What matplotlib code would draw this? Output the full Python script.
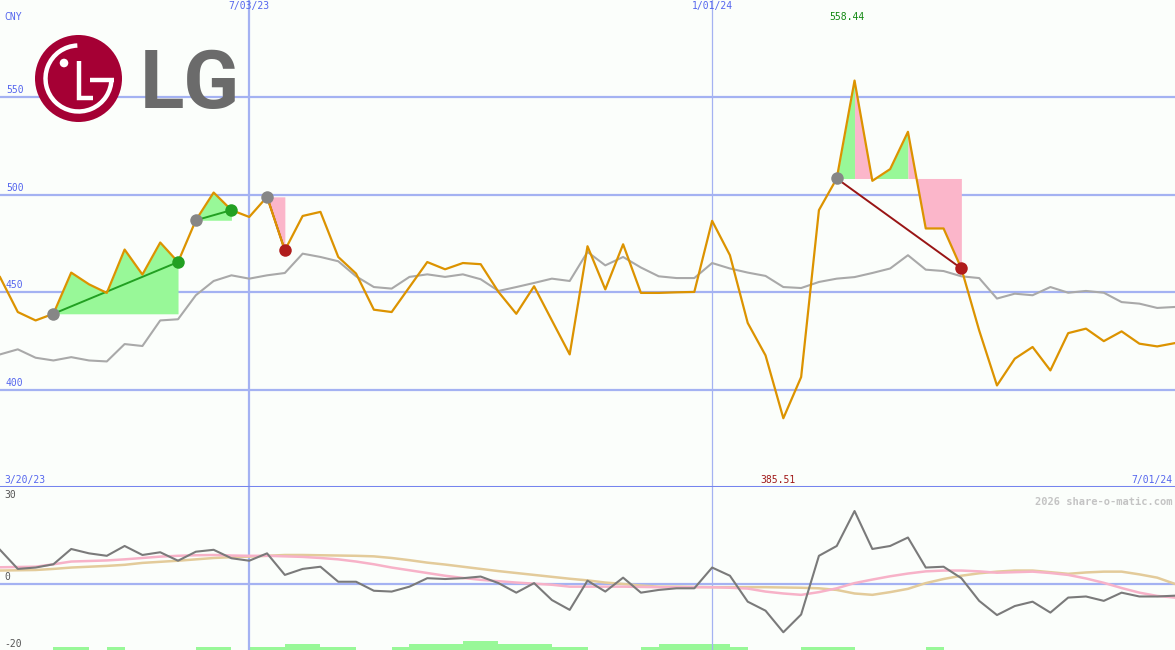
import numpy as np
import matplotlib.pyplot as plt
from matplotlib.patches import Circle, Arc

# weekly closes (CNY), index 0 = left edge of the chart, one point per week
price = [457.8, 439.9, 435.6, 439.0, 460.1, 454.1, 449.7, 471.9, 459.1, 475.5,
         465.5, 486.9, 501.1, 492.1, 488.6, 498.9, 471.5, 489.1, 491.2, 468.1,
         459.6, 441.1, 439.9, 452.7, 465.5, 461.8, 465.0, 464.4, 450.2, 439.0,
         453.1, 435.6, 418.2, 473.6, 451.5, 474.6, 449.7, 449.7, 450.0, 450.2,
         486.6, 469.0, 434.3, 417.7, 385.51, 406.6, 492.1, 508.3, 558.44, 507.1,
         513.1, 532.2, 482.7, 482.7, 462.2, 430.5, 402.3, 416.0, 422.0, 410.0,
         429.1, 431.4, 425.0, 430.0, 423.7, 422.3, 424.0]

# moving average (grey)
avg = [418.2, 420.8, 416.5, 415.1, 416.8, 415.1, 414.6, 423.5, 422.5, 435.6,
       436.2, 448.5, 455.8, 458.7, 457.0, 458.7, 459.9, 469.8, 468.1, 465.9,
       458.2, 452.7, 451.9, 457.9, 459.2, 457.9, 459.2, 456.7, 450.7, 452.7,
       454.8, 457.0, 455.8, 470.7, 463.8, 468.1, 462.7, 458.2, 457.3, 457.3,
       465.0, 462.2, 460.1, 458.4, 452.7, 452.2, 455.3, 457.0, 457.8, 459.9,
       462.2, 469.0, 461.6, 460.9, 458.2, 457.3, 446.8, 449.3, 448.5, 452.7,
       449.8, 450.7, 449.8, 445.0, 444.2, 442.0, 442.5]

# lower panel: oscillator and its two smoothed lines
osc = [12.5, 5.5, 6.0, 7.2, 12.8, 11.2, 10.3, 13.9, 10.6, 11.6,
       8.5, 11.8, 12.5, 9.4, 8.5, 11.2, 3.3, 5.5, 6.3, 0.8,
       0.8, -2.5, -2.8, -1.0, 2.1, 1.8, 2.1, 2.7, 0.3, -3.2,
       0.3, -5.9, -9.5, 1.2, -2.8, 2.3, -3.2, -2.2, -1.6, -1.6,
       6.0, 3.0, -6.5, -9.8, -17.7, -11.2, 10.3, 13.9, 26.7, 12.8,
       13.9, 17.0, 6.0, 6.3, 2.1, -6.2, -11.4, -8.1, -6.5, -10.5,
       -5.0, -4.6, -6.2, -3.2, -4.6, -4.6, -4.3]
osc_pink = [6.1, 6.2, 6.3, 7.2, 8.2, 8.4, 8.6, 9.0, 9.5, 10.0,
            10.3, 10.5, 10.6, 10.4, 10.3, 10.3, 10.1, 9.9, 9.5, 9.0,
            8.2, 7.2, 6.0, 5.0, 4.0, 3.0, 2.2, 1.5, 1.0, 0.5,
            0.1, -0.3, -1.0, -1.0, -1.0, -1.0, -1.1, -1.2, -1.2, -1.2,
            -1.2, -1.4, -1.7, -2.8, -3.5, -4.0, -3.0, -1.6, 0.3, 1.6,
            2.8, 3.8, 4.6, 4.9, 4.9, 4.6, 4.1, 4.3, 4.5, 4.0,
            3.3, 2.0, 0.4, -1.5, -3.2, -4.4, -5.0]
osc_tan = [4.9, 5.0, 5.1, 5.5, 6.0, 6.3, 6.6, 7.0, 7.7, 8.1,
           8.5, 9.0, 9.5, 9.8, 10.0, 10.3, 10.6, 10.6, 10.5, 10.4,
           10.3, 10.1, 9.5, 8.7, 7.8, 7.1, 6.3, 5.5, 4.7, 4.0,
           3.3, 2.6, 1.9, 1.3, 0.5, 0.0, -0.6, -1.0, -1.0, -1.1,
           -1.2, -1.2, -1.2, -1.2, -1.3, -1.4, -1.6, -2.2, -3.5, -4.0,
           -3.0, -1.8, 0.3, 1.8, 3.0, 3.9, 4.5, 4.9, 4.9, 4.3,
           3.7, 4.2, 4.5, 4.5, 3.5, 2.3, 0.0]

# green bars along the bottom, one level per week interval
bar_level = [0, 0, 0, 1, 1, 0, 1, 0, 0, 0, 0, 1, 1, 0, 1, 1, 2, 2, 1, 1,
             0, 0, 1, 2, 2, 2, 3, 3, 2, 2, 2, 1, 1, 0, 0, 0, 1, 2, 2, 2,
             2, 1, 0, 0, 0, 1, 1, 1, 0, 0, 0, 0, 1, 0, 0, 0, 0, 0, 0, 0,
             0, 0, 0, 0, 0, 0]

# trades: entry week, exit week, colour of each shaded segment
trade_entry = [3, 11, 15, 47]
trade_exit = [10, 13, 16, 54]
trade_segs = ['ggggggg', 'gg', 'r', 'grggrrr']

price_ticks = [400, 450, 500, 550]
date_marks = [14, 40]
date_labels = ['7/03/23', '1/01/24']

grid_c = '#a4b2f2'
blue_txt = '#5566ee'
mono = 'DejaVu Sans Mono'
bg = '#fbfefb'
W, H = 1175, 650

fig = plt.figure(figsize=(W / 100, H / 100), dpi=100, facecolor=bg)
ax = fig.add_axes([0, 163 / H, 1, 487 / H])
ax2 = fig.add_axes([0, 0, 1, 163 / H])
weeks = np.arange(len(price))

for a in (ax, ax2):
    a.set_facecolor(bg)
    a.set_xlim(0, len(price) - 1)
    a.set_xticks([])
    a.set_yticks([])
    for s in a.spines.values():
        s.set_visible(False)
    a.axvline(date_marks[0], color=grid_c, lw=1.6, zorder=1)
    a.axvline(date_marks[1], color=grid_c, lw=0.9, zorder=1)

# ---- top panel
ax.set_ylim(350.3, 599.7)
ytr = ax.get_yaxis_transform()
for t in price_ticks:
    ax.axhline(t, color=grid_c, lw=1.6, zorder=1)
    ax.text(0.005, t + 1, str(t), transform=ytr, fontsize=7, family=mono, color=blue_txt, va='bottom')
ax.axhline(350.3, color='#7584ee', lw=2.2, zorder=5)

# shaded trades, one patch per run of the same colour
for e, x, segs in zip(trade_entry, trade_exit, trade_segs):
    base = price[e]
    k = 0
    while k < len(segs):
        j = k
        while j + 1 < len(segs) and segs[j + 1] == segs[k]:
            j += 1
        xs = np.arange(e + k, e + j + 2)
        ys = [price[i] for i in xs]
        ax.fill_between(xs, base, ys, color='#98f898' if segs[k] == 'g' else '#fbb6ca',
                        lw=0, zorder=2)
        k = j + 1
    win = price[x] > base
    ax.plot([e, x], [base, price[x]], color='#22a022' if win else '#991515', lw=1.4, zorder=3)

ax.plot(weeks, avg, color='#a9a9a9', lw=1.5, zorder=3)
ax.plot(weeks, price, color='#dc9300', lw=1.6, zorder=4)

for e, x in zip(trade_entry, trade_exit):
    ax.plot(e, price[e], 'o', ms=9, color='#868686', mec='none', zorder=6)
    ax.plot(x, price[x], 'o', ms=9, mec='none', zorder=6,
            color='#22a022' if price[x] > price[e] else '#b01c1c')

# labels
tr = ax.get_xaxis_transform()
for d, lab in zip(date_marks, date_labels):
    ax.text(d, 0.998, lab, transform=tr, ha='center', va='top', fontsize=7, family=mono, color=blue_txt)
hi = int(np.argmax(price))
lo = int(np.argmin(price))
ax.text(hi - 0.4, 0.975, f'{price[hi]:.2f}', transform=tr, ha='center', va='top', fontsize=7, family=mono, color='#118811')
ax.text(lo - 0.3, 0.004, f'{price[lo]:.2f}', transform=tr, ha='center', va='bottom', fontsize=7, family=mono, color='#a01818')
ax.text(0.004, 0.004, '3/20/23', transform=ax.transAxes, ha='left', va='bottom', fontsize=7, family=mono, color=blue_txt)
ax.text(0.998, 0.004, '7/01/24', transform=ax.transAxes, ha='right', va='bottom', fontsize=7, family=mono, color=blue_txt)
ax.text(0.004, 0.955, 'CNY', transform=ax.transAxes, ha='left', va='bottom', fontsize=7, family=mono, color=blue_txt)

# ---- lower panel
ax2.set_ylim(-24.2, 35.5)
ax2.axhline(0, color=grid_c, lw=1.6, zorder=1)
vol = ax2.twinx()
vol.set_ylim(0, 163 / 3)
vol.set_axis_off()
vol.bar(weeks[:-1], bar_level, width=1, align='edge', color='#98f898', lw=0)
ax2.set_zorder(vol.get_zorder() + 1)
ax2.patch.set_visible(False)

ax2.plot(weeks, osc_tan, color='#e3cb9a', lw=1.8, zorder=2)
ax2.plot(weeks, osc_pink, color='#f7b2c8', lw=1.8, zorder=2)
ax2.plot(weeks, osc, color='#7a7a7a', lw=1.5, zorder=3)
for v in (30, 0):
    ax2.text(0.004, v + 0.8, str(v), transform=ax2.get_yaxis_transform(), ha='left', va='bottom',
             fontsize=7, family=mono, color='#555555')
ax2.text(0.004, 0.005, '-20', transform=ax2.transAxes, ha='left', va='bottom', fontsize=7, family=mono, color='#555555')
ax2.text(0.998, 0.94, '2026 share-o-matic.com', transform=ax2.transAxes, ha='right', va='top',
         fontsize=7.5, family=mono, fontweight='bold', color='#c4c4c4')

# ---- LG logo
lg = fig.add_axes([0, 0, 1, 1], zorder=10)
lg.set_xlim(0, W)
lg.set_ylim(H, 0)
lg.set_axis_off()
lg.patch.set_visible(False)
cx, cy = 78.5, 78.5
lg.add_patch(Circle((cx, cy), 43.5, color='#a50034', lw=0))
lg.add_patch(Arc((cx, cy), 66, 66, theta1=0, theta2=268, color='white', lw=3.2))
lg.plot([cx + 11, cx + 35], [cy + 1.5, cy + 1.5], color='white', lw=3.2, solid_capstyle='butt')
lg.plot([cx + 0.5, cx + 0.5, cx + 14], [cy - 18, cy + 19.5, cy + 19.5], color='white', lw=3.2,
        solid_capstyle='butt', solid_joinstyle='miter')
lg.add_patch(Circle((cx - 14.5, cy - 15.5), 4.3, color='white', lw=0))
lg.text(140, 108, 'LG', fontsize=59, family='Roboto', fontweight='bold', color='#6b6b6b',
        ha='left', va='baseline')

fig.savefig('out.png', dpi=100, facecolor=fig.get_facecolor())
